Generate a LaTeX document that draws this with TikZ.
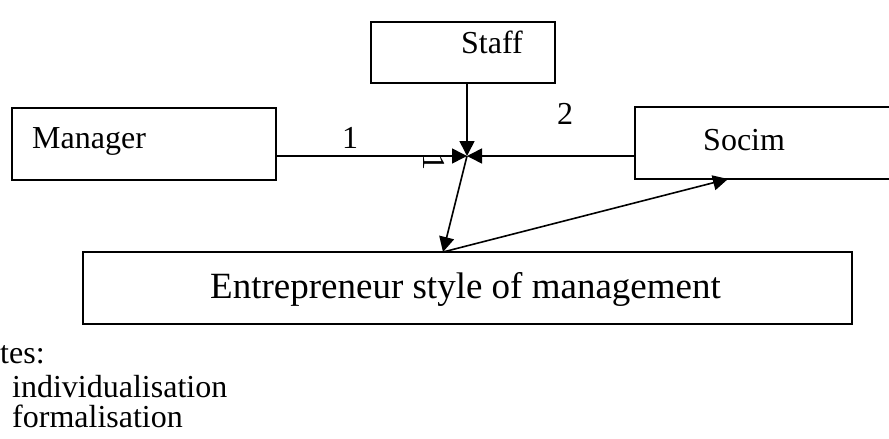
\documentclass[tikz,border=0pt]{standalone}
\usepackage{fontspec}
\setmainfont{Liberation Serif}
\usetikzlibrary{arrows.meta}
\begin{document}
\begin{tikzpicture}[x=1pt,y=-1pt,
  box/.style={draw, line width=1.6pt, inner sep=0pt},
  txt/.style={inner sep=0pt, anchor=base west, font=\fontsize{32}{38}\selectfont},
  bigtxt/.style={inner sep=0pt, anchor=base west, font=\fontsize{37}{44}\selectfont},
  lbl/.style={inner sep=0pt, font=\fontsize{32}{38}\selectfont},
  conn/.style={line width=1.6pt, -{Triangle[length=15pt,width=15pt]}}]
\useasboundingbox (0,0) rectangle (889,439);
\clip (0,0) rectangle (889,439);
% boxes
\node[box, minimum width=264pt, minimum height=72pt] (mgr) at (144,144) {};
\node[box, minimum width=184pt, minimum height=61pt] (staff) at (463,52.5) {};
\node[box, minimum width=270pt, minimum height=72pt] (socim) at (770,143) {};
\node[box, minimum width=769pt, minimum height=72pt] (entre) at (467.5,288) {};
% texts
\node[txt] (mgrtxt) at (32,148) {Manager};
\node[txt] (stafftxt) at (461,53) {Staff};
\node[txt] (socimtxt) at (703,150) {Socim};
\node[bigtxt] (entretxt) at (210,298) {Entrepreneur style of management};
\node[txt] (notes) at (0,363) {tes:};
\node[txt] (note1) at (12,397) {individualisation};
\node[txt] (note2) at (12,427) {formalisation};
% junction points
\coordinate (m) at (467,156);
\coordinate (e1) at (443,252);
\coordinate (s1) at (728,179);
% connectors
\draw[conn] (mgr.east |- m) -- (m);
\draw[conn] (socim.west |- m) -- (m);
\draw[conn] (staff.south -| m) -- (m);
\draw[conn] (m) -- (e1);
\draw[conn] (e1) -- (s1);
% labels
\node[lbl] (l1) at (350,138) {1};
\node[lbl] (l2) at (565,114) {2};
\node[lbl, rotate=-90] (l1r) at (434,162) {1};
\end{tikzpicture}
\end{document}
